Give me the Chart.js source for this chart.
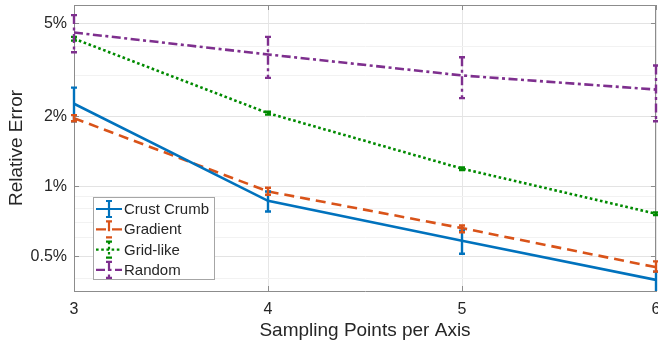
<!DOCTYPE html>
<html>
<head>
<meta charset="utf-8">
<title>Relative Error</title>
<script src="https://cdn.jsdelivr.net/npm/chart.js@4.4.0/dist/chart.umd.min.js"></script>
<style>
    html, body { margin: 0; padding: 0; background: #ffffff; }
    #wrap { position: relative; width: 658px; height: 347px; }
</style>
</head>
<body>
<div id="wrap"><canvas id="errorChart"></canvas></div>
<script>
// Sampling points per axis (x axis)
const samplingPoints = [3, 4, 5, 6];

// Relative error in percent, mean and error bar ends
const crustCrumb = [2.26, 0.866, 0.583, 0.396];
const crustCrumbLow = [1.90, 0.779, 0.513, 0.34];
const crustCrumbHigh = [2.65, 0.950, 0.644, 0.43];

const gradient = [1.96, 0.950, 0.661, 0.449];
const gradientLow = [1.90, 0.919, 0.635, 0.430];
const gradientHigh = [2.02, 0.985, 0.678, 0.476];

const gridLike = [4.30, 2.06, 1.19, 0.762];
const gridLikeLow = [4.22, 2.03, 1.175, 0.752];
const gridLikeHigh = [4.38, 2.09, 1.205, 0.772];

const random = [4.57, 3.68, 2.99, 2.60];
const randomLow = [3.76, 2.92, 2.39, 1.90];
const randomHigh = [5.43, 4.38, 3.58, 3.30];

const seriesNames = ['Crust Crumb', 'Gradient', 'Grid-like', 'Random'];

// Log axis ticks (minor ones get a grid line but no label)
const yTickValues = [0.4, 0.5, 0.6, 0.7, 0.8, 0.9, 1, 2, 3, 4, 5, 6];
const yMajorTicks = [0.5, 1, 2, 5];
const yMajorLabels = ['0.5%', '1%', '2%', '5%'];

const FONT = "'Liberation Sans', Arial, sans-serif";
const TEXT = '#262626';
const AXIS = '#8c8c8c';

function makeSeries(name, mean, low, high, color, dash) {
    return {
        label: name,
        data: samplingPoints.map((x, i) => ({ x: x, y: mean[i] })),
        errLow: low,
        errHigh: high,
        borderColor: color,
        backgroundColor: color,
        borderWidth: 2.6,
        borderDash: dash,
        pointRadius: 0,
        pointHoverRadius: 0,
        tension: 0,
        fill: false
    };
}

const datasets = [
    makeSeries(seriesNames[0], crustCrumb, crustCrumbLow, crustCrumbHigh, '#0072BD', []),
    makeSeries(seriesNames[1], gradient, gradientLow, gradientHigh, '#D95319', [10, 6]),
    makeSeries(seriesNames[2], gridLike, gridLikeLow, gridLikeHigh, '#008A00', [2.6, 2.6]),
    makeSeries(seriesNames[3], random, randomLow, randomHigh, '#7E2F8E', [9, 3.5, 3, 3.5])
];

// Box around the plot plus small inward ticks, like a MATLAB axes
const framePlugin = {
    id: 'frame',
    beforeDatasetsDraw(chart) {
        const ctx = chart.ctx;
        const a = chart.chartArea;
        const xs = chart.scales.x;
        const ys = chart.scales.y;
        ctx.save();
        ctx.strokeStyle = AXIS;
        ctx.lineWidth = 1;
        ctx.beginPath();
        ctx.moveTo(a.left, a.top + 0.5);
        ctx.lineTo(a.right, a.top + 0.5);
        ctx.moveTo(a.right - 0.5, a.top);
        ctx.lineTo(a.right - 0.5, a.bottom);
        samplingPoints.forEach(v => {
            const px = Math.round(xs.getPixelForValue(v)) + 0.5;
            ctx.moveTo(px, a.bottom);
            ctx.lineTo(px, a.bottom - 5);
            ctx.moveTo(px, a.top);
            ctx.lineTo(px, a.top + 5);
        });
        yMajorTicks.forEach(v => {
            const py = Math.round(ys.getPixelForValue(v)) + 0.5;
            ctx.moveTo(a.left, py);
            ctx.lineTo(a.left + 5, py);
            ctx.moveTo(a.right, py);
            ctx.lineTo(a.right - 5, py);
        });
        ctx.stroke();
        ctx.restore();
    }
};

// Vertical error bars with caps, in each series' own line style
const errorBarPlugin = {
    id: 'errorBars',
    afterDatasetsDraw(chart) {
        const ctx = chart.ctx;
        const a = chart.chartArea;
        const xs = chart.scales.x;
        const ys = chart.scales.y;
        ctx.save();
        ctx.beginPath();
        ctx.rect(a.left - 4, a.top, a.right - a.left + 8, a.bottom - a.top);
        ctx.clip();
        chart.data.datasets.forEach(ds => {
            ctx.strokeStyle = ds.borderColor;
            ctx.lineWidth = 2.4;
            ds.data.forEach((p, i) => {
                const px = xs.getPixelForValue(p.x);
                const yLo = ys.getPixelForValue(ds.errLow[i]);
                const yHi = ys.getPixelForValue(ds.errHigh[i]);
                ctx.setLineDash(ds.borderDash);
                ctx.beginPath();
                ctx.moveTo(px, yHi);
                ctx.lineTo(px, yLo);
                ctx.stroke();
                ctx.setLineDash([]);
                ctx.beginPath();
                ctx.moveTo(px - 3, yHi);
                ctx.lineTo(px + 3, yHi);
                ctx.moveTo(px - 3, yLo);
                ctx.lineTo(px + 3, yLo);
                ctx.stroke();
            });
        });
        ctx.restore();
    }
};

// Legend box sitting inside the plot, lower left
const insideLegendPlugin = {
    id: 'insideLegend',
    afterDraw(chart) {
        const ctx = chart.ctx;
        const bx = 93, by = 197, bw = 121, bh = 82;
        ctx.save();
        ctx.fillStyle = '#ffffff';
        ctx.fillRect(bx, by, bw, bh);
        ctx.strokeStyle = '#a6a6a6';
        ctx.lineWidth = 1;
        ctx.strokeRect(bx + 0.5, by + 0.5, bw, bh);
        chart.data.datasets.forEach((ds, i) => {
            const cy = by + 12 + i * 20.3;
            ctx.strokeStyle = ds.borderColor;
            ctx.lineWidth = 2.2;
            ctx.setLineDash(ds.borderDash);
            ctx.beginPath();
            ctx.moveTo(bx + 3, cy);
            ctx.lineTo(bx + 29, cy);
            ctx.moveTo(bx + 16, cy - 8);
            ctx.lineTo(bx + 16, cy + 8);
            ctx.stroke();
            ctx.setLineDash([]);
            ctx.beginPath();
            ctx.moveTo(bx + 13, cy - 8);
            ctx.lineTo(bx + 19, cy - 8);
            ctx.moveTo(bx + 13, cy + 8);
            ctx.lineTo(bx + 19, cy + 8);
            ctx.stroke();
            ctx.fillStyle = TEXT;
            ctx.font = '15px ' + FONT;
            ctx.textAlign = 'left';
            ctx.textBaseline = 'middle';
            ctx.fillText(ds.label, bx + 31, cy + 1);
        });
        ctx.restore();
    }
};

document.addEventListener('DOMContentLoaded', function() {
    const ctx = document.getElementById('errorChart').getContext('2d');
    new Chart(ctx, {
        type: 'line',
        data: { datasets: datasets },
        plugins: [framePlugin, errorBarPlugin, insideLegendPlugin],
        options: {
            responsive: true,
            maintainAspectRatio: false,
            animation: false,
            layout: { padding: { top: 5, right: 2, left: 0, bottom: 0 } },
            plugins: {
                legend: { display: false },
                tooltip: { enabled: false }
            },
            scales: {
                x: {
                    type: 'linear',
                    min: 3,
                    max: 6,
                    afterBuildTicks: function(scale) {
                        scale.ticks = samplingPoints.map(v => ({ value: v }));
                    },
                    afterFit: function(scale) {
                        scale.height = 56;
                        scale.paddingLeft = 0;
                        scale.paddingRight = 0;
                    },
                    ticks: {
                        padding: 9,
                        color: TEXT,
                        font: { family: FONT, size: 16 },
                        maxRotation: 0
                    },
                    grid: { color: '#e6e6e6', drawTicks: false },
                    border: { color: AXIS, width: 1 },
                    title: {
                        display: true,
                        text: 'Sampling Points per Axis',
                        color: TEXT,
                        font: { family: FONT, size: 19 },
                        padding: { top: 0, bottom: 5 }
                    }
                },
                y: {
                    type: 'logarithmic',
                    min: 0.355,
                    max: 6,
                    afterBuildTicks: function(scale) {
                        scale.ticks = yTickValues.map(v => ({ value: v }));
                    },
                    afterFit: function(scale) {
                        scale.width = 74;
                        scale.paddingTop = 0;
                        scale.paddingBottom = 0;
                    },
                    ticks: {
                        padding: 7,
                        color: TEXT,
                        font: { family: FONT, size: 16 },
                        autoSkip: false,
                        callback: function(value) {
                            const k = yMajorTicks.indexOf(value);
                            return k >= 0 ? yMajorLabels[k] : '';
                        }
                    },
                    grid: {
                        drawTicks: false,
                        color: function(c) {
                            return yMajorTicks.indexOf(c.tick.value) >= 0 ? '#e3e3e3' : '#f2f2f2';
                        }
                    },
                    border: { color: AXIS, width: 1 },
                    title: {
                        display: true,
                        text: 'Relative Error',
                        color: TEXT,
                        font: { family: FONT, size: 19 },
                        padding: { top: 5, bottom: 0 }
                    }
                }
            }
        }
    });
});
</script>
</body>
</html>
